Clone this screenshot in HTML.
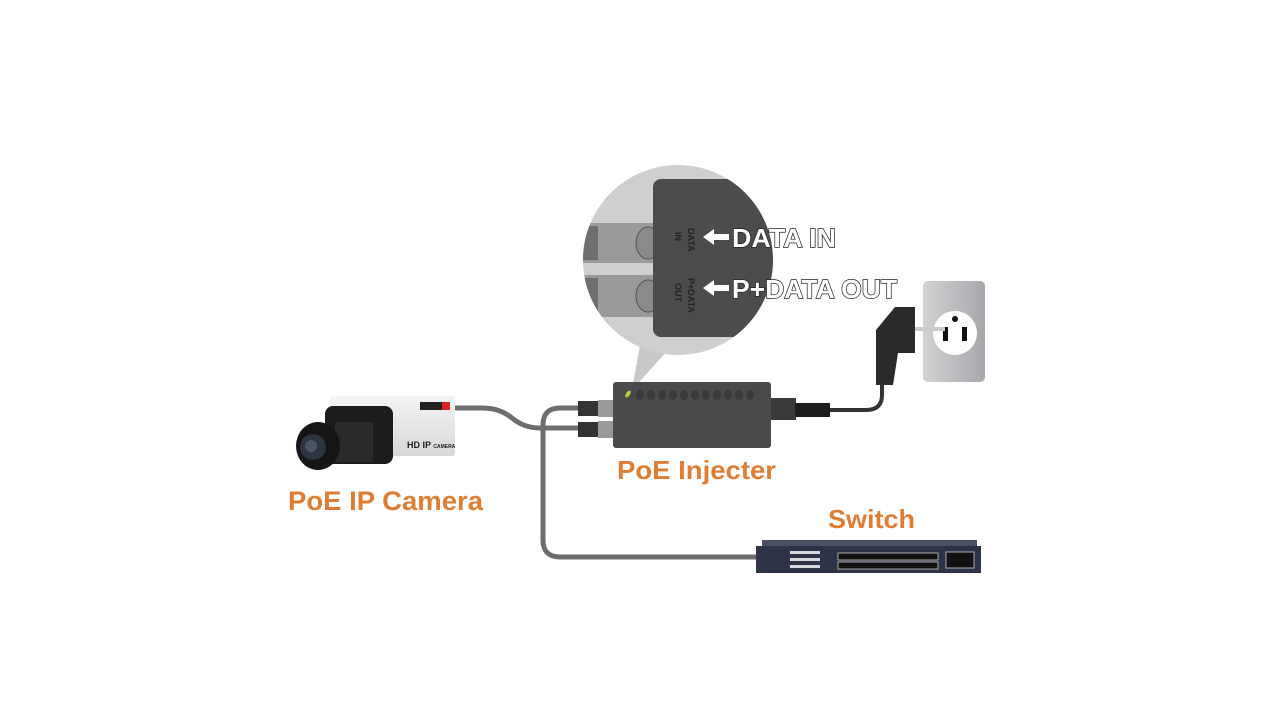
<!DOCTYPE html>
<html><head><meta charset="utf-8"><style>
html,body{margin:0;padding:0;background:#fff;}
svg{display:block;}
text{font-family:"Liberation Sans",sans-serif;font-weight:bold;}
</style></head><body>
<svg width="1280" height="720" viewBox="0 0 1280 720" xmlns="http://www.w3.org/2000/svg">
<defs>
<clipPath id="mag"><circle cx="678" cy="260" r="95"/></clipPath>
<linearGradient id="cam" x1="0" y1="0" x2="0" y2="1"><stop offset="0" stop-color="#f4f4f4"/><stop offset="1" stop-color="#d8d8d8"/></linearGradient>
<linearGradient id="outl" x1="0" y1="0" x2="1" y2="0"><stop offset="0" stop-color="#d2d2d4"/><stop offset="1" stop-color="#a8a8ac"/></linearGradient>
</defs>
<polygon points="640,345 668,350 632,390" fill="#c8c8c8"/>
<circle cx="678" cy="260" r="95" fill="#cfcfcf"/>
<g clip-path="url(#mag)">
  <rect x="580" y="223" width="75" height="40" fill="#9a9a9a"/>
  <rect x="580" y="226" width="18" height="34" fill="#6e6e6e"/>
  <rect x="580" y="275" width="75" height="42" fill="#9a9a9a"/>
  <rect x="580" y="278" width="18" height="36" fill="#6e6e6e"/>
  <ellipse cx="648" cy="243" rx="12" ry="16" fill="#8a8a8a" stroke="#555"/>
  <ellipse cx="648" cy="296" rx="12" ry="16" fill="#8a8a8a" stroke="#555"/>
  <rect x="653" y="179" width="140" height="158" rx="8" fill="#4c4c4e"/>
</g>
<text x="0" y="0" font-size="9" fill="#222" font-weight="normal" transform="translate(688,228) rotate(90)">DATA</text>
<text x="0" y="0" font-size="9" fill="#222" font-weight="normal" transform="translate(675,232) rotate(90)">IN</text>
<text x="0" y="0" font-size="9" fill="#222" font-weight="normal" transform="translate(688,278) rotate(90)">P+DATA</text>
<text x="0" y="0" font-size="9" fill="#222" font-weight="normal" transform="translate(675,283) rotate(90)">OUT</text>
<polygon points="703,237 714,229 714,234 729,234 729,240 714,240 714,245" fill="#fff"/>
<polygon points="703,288 714,280 714,285 729,285 729,291 714,291 714,296" fill="#fff"/>
<text x="732" y="247" font-size="26" textLength="104" lengthAdjust="spacingAndGlyphs" fill="#fff" stroke="#222" stroke-width="1.4" paint-order="stroke">DATA IN</text>
<text x="732" y="298" font-size="26" textLength="165" lengthAdjust="spacingAndGlyphs" fill="#fff" stroke="#222" stroke-width="1.4" paint-order="stroke">P+DATA OUT</text>
<rect x="923" y="281" width="62" height="101" rx="5" fill="url(#outl)"/>
<circle cx="955" cy="333" r="22" fill="#fff"/>
<circle cx="955" cy="319" r="3" fill="#111"/>
<rect x="943" y="327" width="5" height="14" fill="#111"/>
<rect x="962" y="327" width="5" height="14" fill="#111"/>
<rect x="905" y="327" width="40" height="4" fill="#ccc"/>
<path d="M895,307 L915,307 L915,353 L898,353 L893,385 L876,385 L876,330 Z" fill="#2a2a2a"/>
<g fill="none" stroke-linecap="round">
<path d="M882,385 L882,395 Q882,410 866,410 L825,410" stroke="#333" stroke-width="4"/>
<path d="M455,408 L482,408 Q500,408 512,418 Q524,428 540,428 L580,428" stroke="#6d6d6d" stroke-width="5"/>
<path d="M580,408 L560,408 Q543,408 543,425 L543,540 Q543,557 560,557 L762,557" stroke="#6d6d6d" stroke-width="5"/>
</g>
<rect x="771" y="398" width="25" height="22" fill="#3a3a3a"/>
<rect x="795" y="403" width="35" height="14" fill="#1e1e1e"/>
<rect x="578" y="401" width="22" height="15" fill="#333"/>
<rect x="578" y="422" width="22" height="15" fill="#333"/>
<rect x="598" y="400" width="18" height="17" fill="#999"/>
<rect x="598" y="421" width="18" height="17" fill="#999"/>
<rect x="613" y="382" width="158" height="66" rx="3" fill="#4a4a4c"/>
<g fill="#3a3a3c">
<ellipse cx="640" cy="395" rx="4" ry="5"/><ellipse cx="651" cy="395" rx="4" ry="5"/><ellipse cx="662" cy="395" rx="4" ry="5"/><ellipse cx="673" cy="395" rx="4" ry="5"/><ellipse cx="684" cy="395" rx="4" ry="5"/><ellipse cx="695" cy="395" rx="4" ry="5"/><ellipse cx="706" cy="395" rx="4" ry="5"/><ellipse cx="717" cy="395" rx="4" ry="5"/><ellipse cx="728" cy="395" rx="4" ry="5"/><ellipse cx="739" cy="395" rx="4" ry="5"/><ellipse cx="750" cy="395" rx="4" ry="5"/>
</g>
<ellipse cx="628" cy="394" rx="2" ry="4" fill="#b8d040" transform="rotate(35 628 394)"/>
<rect x="330" y="396" width="125" height="60" rx="3" fill="url(#cam)"/>
<rect x="420" y="402" width="30" height="8" fill="#222"/>
<rect x="442" y="402" width="8" height="8" fill="#d22"/>
<text x="407" y="448" font-size="9" fill="#222">HD IP <tspan font-size="5">CAMERA</tspan></text>
<rect x="325" y="406" width="68" height="58" rx="8" fill="#1c1c1c"/>
<rect x="335" y="422" width="38" height="40" fill="#2a2a2a"/>
<ellipse cx="318" cy="446" rx="22" ry="24" fill="#151515"/>
<circle cx="313" cy="447" r="13" fill="#2e3440"/>
<circle cx="311" cy="446" r="6" fill="#4a5568"/>
<rect x="762" y="540" width="215" height="8" fill="#4a4f63"/>
<rect x="756" y="546" width="225" height="27" fill="#2f3348"/>
<g fill="#d8d8e0">
<rect x="790" y="551" width="30" height="3"/><rect x="790" y="558" width="30" height="3"/><rect x="790" y="565" width="30" height="3"/>
</g>
<g fill="#111" stroke="#ccc" stroke-width="0.8">
<rect x="838" y="553" width="100" height="7"/><rect x="838" y="562" width="100" height="7"/>
<rect x="946" y="552" width="28" height="16"/>
</g>
<text x="288" y="510" font-size="27" textLength="195" lengthAdjust="spacingAndGlyphs" fill="#e07d35">PoE IP Camera</text>
<text x="617" y="479" font-size="26" textLength="159" lengthAdjust="spacingAndGlyphs" fill="#e07d35">PoE Injecter</text>
<text x="828" y="528" font-size="26" textLength="87" lengthAdjust="spacingAndGlyphs" fill="#e07d35">Switch</text>
</svg>
</body></html>
